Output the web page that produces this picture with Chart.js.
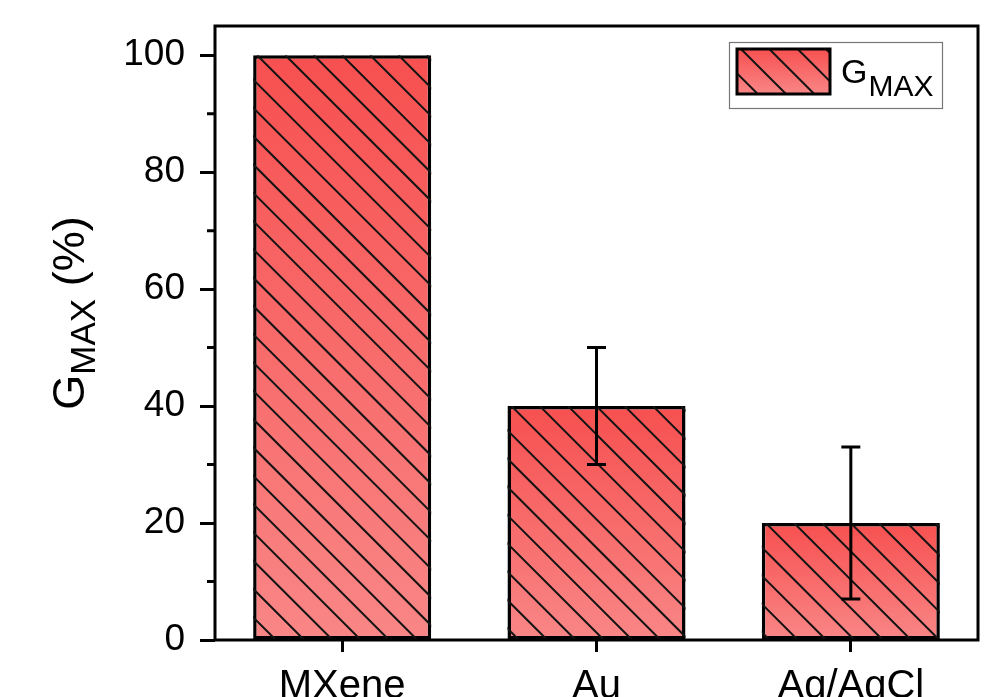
<!DOCTYPE html>
<html lang="en">
<head>
<meta charset="UTF-8">
<title>GMAX bar chart</title>
<script src="https://cdn.jsdelivr.net/npm/chart.js"></script>
<style>
  body { margin: 0; background: #fff; }
  #wrap { width: 1007px; height: 697px; }
</style>
</head>
<body>
<div id="wrap"><canvas id="gmaxChart" width="1007" height="697"></canvas></div>
<script>
// data
const categories = ['MXene', 'Au', 'Ag/AgCl'];
const gmax = [100, 40, 20];
const errLow = [null, 30, 7];
const errHigh = [null, 50, 33];
const yTicks = [0, 20, 40, 60, 80, 100];
const yMinor = [10, 30, 50, 70, 90];

const FONT = '"Liberation Sans", Arial, Helvetica, sans-serif';
const TOP_RED = 'rgb(247, 80, 80)';
const BOT_RED = 'rgb(249, 134, 134)';

function redGradient(ctx, top, bottom) {
  const g = ctx.createLinearGradient(0, top, 0, bottom);
  g.addColorStop(0, TOP_RED);
  g.addColorStop(1, BOT_RED);
  return g;
}

// diagonal "\" hatch inside a rectangle
function drawHatch(ctx, left, top, right, bottom) {
  const step = 28.3;
  const h = bottom - top;
  ctx.save();
  ctx.beginPath();
  ctx.rect(left, top, right - left, h);
  ctx.clip();
  ctx.strokeStyle = '#141414';
  ctx.lineWidth = 2;
  ctx.beginPath();
  for (let x0 = left + 4 - step * Math.ceil(h / step); x0 < right; x0 += step) {
    ctx.moveTo(x0, top);
    ctx.lineTo(x0 + h, bottom);
  }
  ctx.stroke();
  ctx.restore();
}

const decorPlugin = {
  id: 'decor',
  afterDatasetsDraw(chart) {
    const ctx = chart.ctx;
    const yScale = chart.scales.y;
    const meta = chart.getDatasetMeta(0);

    // hatch on the bars
    meta.data.forEach(el => {
      const w = el.width;
      drawHatch(ctx, el.x - w / 2, el.y, el.x + w / 2, el.base);
    });

    // error bars
    ctx.save();
    ctx.strokeStyle = '#000';
    ctx.lineWidth = 3;
    meta.data.forEach((el, i) => {
      if (errLow[i] == null) return;
      const yl = yScale.getPixelForValue(errLow[i]);
      const yh = yScale.getPixelForValue(errHigh[i]);
      ctx.beginPath();
      ctx.moveTo(el.x, yl); ctx.lineTo(el.x, yh);
      ctx.moveTo(el.x - 9.5, yl); ctx.lineTo(el.x + 9.5, yl);
      ctx.moveTo(el.x - 9.5, yh); ctx.lineTo(el.x + 9.5, yh);
      ctx.stroke();
    });
    ctx.restore();
  },
  afterDraw(chart) {
    const ctx = chart.ctx;
    const a = chart.chartArea;
    const yScale = chart.scales.y;

    // frame
    ctx.save();
    ctx.strokeStyle = '#000';
    ctx.lineWidth = 3;
    ctx.strokeRect(a.left, a.top, a.right - a.left, a.bottom - a.top);

    // minor ticks on y
    ctx.beginPath();
    yMinor.forEach(v => {
      const y = yScale.getPixelForValue(v);
      ctx.moveTo(a.left, y); ctx.lineTo(a.left - 8, y);
    });
    ctx.stroke();

    // y axis title, G_MAX (%)
    ctx.translate(84, 313);
    ctx.rotate(-Math.PI / 2);
    ctx.fillStyle = '#000';
    ctx.textBaseline = 'alphabetic';
    ctx.font = '45px ' + FONT;
    const wG = ctx.measureText('G').width;
    const wP = ctx.measureText(' (%)').width;
    ctx.font = '35px ' + FONT;
    const wM = ctx.measureText('MAX').width;
    let x = -(wG + wM + wP) / 2;
    ctx.font = '45px ' + FONT;
    ctx.fillText('G', x, 0);
    ctx.font = '35px ' + FONT;
    ctx.fillText('MAX', x + wG, 11);
    ctx.font = '45px ' + FONT;
    ctx.fillText(' (%)', x + wG + wM, 0);
    ctx.restore();

    // legend
    ctx.save();
    const lx = a.right - 249, ly = a.top + 16;
    ctx.fillStyle = '#fff';
    ctx.fillRect(lx, ly, 213, 66);
    ctx.strokeStyle = '#777';
    ctx.lineWidth = 1.2;
    ctx.strokeRect(lx + 0.5, ly + 0.5, 213, 66);
    const sx = lx + 8, sy = ly + 7, sw = 93, sh = 45;
    ctx.fillStyle = redGradient(ctx, sy, sy + sh);
    ctx.fillRect(sx, sy, sw, sh);
    drawHatch(ctx, sx, sy, sx + sw, sy + sh);
    ctx.strokeStyle = '#000';
    ctx.lineWidth = 3;
    ctx.strokeRect(sx, sy, sw, sh);
    ctx.fillStyle = '#000';
    ctx.font = '34px ' + FONT;
    ctx.fillText('G', lx + 112, ly + 41);
    const gw = ctx.measureText('G').width;
    ctx.font = '30px ' + FONT;
    ctx.fillText('MAX', lx + 113 + gw, ly + 54);
    ctx.restore();
  }
};

const ctx = document.getElementById('gmaxChart').getContext('2d');
new Chart(ctx, {
  type: 'bar',
  data: {
    labels: categories,
    datasets: [{
      label: 'GMAX',
      data: gmax,
      backgroundColor: (c) => {
        const ys = c.chart.scales.y;
        if (!ys || c.raw == null) return TOP_RED;
        const top = ys.getPixelForValue(c.raw);
        const bottom = ys.getPixelForValue(0);
        if (!isFinite(top) || !isFinite(bottom) || top === bottom) return TOP_RED;
        return redGradient(c.chart.ctx, top, bottom);
      },
      borderColor: '#000',
      borderWidth: 3.5,
      borderSkipped: false,
      barPercentage: 0.7,
      categoryPercentage: 1.0
    }]
  },
  options: {
    responsive: false,
    animation: false,
    devicePixelRatio: 1,
    layout: { padding: { top: 26, right: 29, left: 0, bottom: 0 } },
    plugins: {
      legend: { display: false },
      tooltip: { enabled: false }
    },
    scales: {
      x: {
        afterFit: s => { s.height = 57; s.paddingLeft = 0; s.paddingRight = 0; },
        grid: { offset: false, drawOnChartArea: false, tickLength: 12, tickWidth: 3, tickColor: '#000' },
        border: { display: false },
        ticks: { font: { family: FONT, size: 40 }, color: '#000', padding: 11, maxRotation: 0, autoSkip: false }
      },
      y: {
        min: 0,
        max: 105,
        afterFit: s => { s.width = 215; s.paddingTop = 0; s.paddingBottom = 0; },
        afterBuildTicks: s => { s.ticks = yTicks.map(v => ({ value: v })); },
        grid: { drawOnChartArea: false, tickLength: 15, tickWidth: 3, tickColor: '#000' },
        border: { display: false },
        ticks: { font: { family: FONT, size: 37 }, color: '#000', padding: 15 }
      }
    }
  },
  plugins: [decorPlugin]
});
</script>
</body>
</html>
